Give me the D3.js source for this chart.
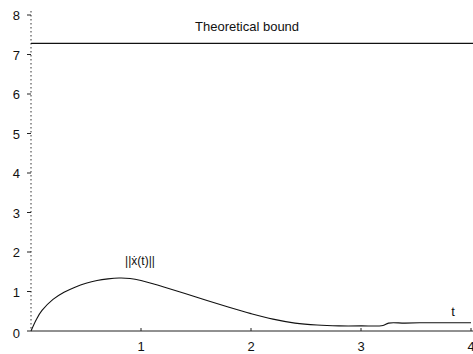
<!DOCTYPE html>
<html><head><meta charset="utf-8">
<script src="https://cdn.jsdelivr.net/npm/d3@7"></script>
<style>body{margin:0;background:#fff}svg{display:block}text{font-family:"Liberation Sans",Arial,sans-serif;fill:#111}</style>
</head><body><svg id="c" width="473" height="354"></svg>
<script>
const tValues=[0,0.05,0.1,0.2,0.3,0.4,0.5,0.6,0.7,0.8,0.9,1.0,1.2,1.4,1.6,1.8,2.0,2.2,2.4,2.6,2.8,3.0,3.2,3.25,3.4,3.6,3.8,4.0];
const normValues=[0,0.3,0.52,0.8,0.98,1.11,1.21,1.28,1.32,1.34,1.33,1.28,1.12,0.95,0.77,0.6,0.44,0.3,0.2,0.15,0.13,0.13,0.14,0.2,0.2,0.21,0.21,0.21];
const boundValue=7.28;
const xTicks=[1,2,3,4];
const yTicks=[0,1,2,3,4,5,6,7,8];
const svg=d3.select("#c");
const x=d3.scaleLinear().domain([0,4]).range([31,471]);
const y=d3.scaleLinear().domain([0,8]).range([331,15]);
// y axis
svg.append("line").attr("x1",x(0)).attr("x2",x(0)).attr("y1",y(8)-4).attr("y2",y(0))
 .attr("stroke","#333").attr("stroke-width",1).attr("stroke-dasharray","1.5,2.5");
svg.selectAll(".yt").data(yTicks).enter().append("line")
 .attr("x1",x(0)-4).attr("x2",x(0)).attr("y1",d=>y(d)).attr("y2",d=>y(d)).attr("stroke","#222");
svg.selectAll(".yl").data(yTicks).enter().append("text")
 .attr("x",20).attr("y",d=>y(d)+(d===0?7:5)).attr("text-anchor","end").attr("font-size",13).text(d=>d);
// x axis
svg.append("line").attr("x1",x(0)).attr("x2",473).attr("y1",y(0)).attr("y2",y(0)).attr("stroke","#222");
svg.selectAll(".xt").data(xTicks).enter().append("line")
 .attr("x1",d=>x(d)).attr("x2",d=>x(d)).attr("y1",y(0)).attr("y2",y(0)-3).attr("stroke","#222");
svg.selectAll(".xl").data(xTicks).enter().append("text")
 .attr("x",d=>x(d)).attr("y",351).attr("text-anchor","middle").attr("font-size",13).text(d=>d);
// bound
svg.append("line").attr("x1",x(0)).attr("x2",473).attr("y1",y(boundValue)).attr("y2",y(boundValue))
 .attr("stroke","#111").attr("stroke-width",1.2);
svg.append("text").attr("x",195).attr("y",31).attr("font-size",13).text("Theoretical bound");
// curve
const line=d3.line().x((d,i)=>x(tValues[i])).y(d=>y(d)).curve(d3.curveCatmullRom.alpha(0.5));
svg.append("path").datum(normValues).attr("d",line).attr("fill","none").attr("stroke","#111").attr("stroke-width",1.1);
svg.append("text").attr("x",140).attr("y",265).attr("text-anchor","middle").attr("font-size",12).text("||x\u0307(t)||");
svg.append("text").attr("x",453).attr("y",316).attr("text-anchor","middle").attr("font-size",13).text("t");
</script></body></html>
